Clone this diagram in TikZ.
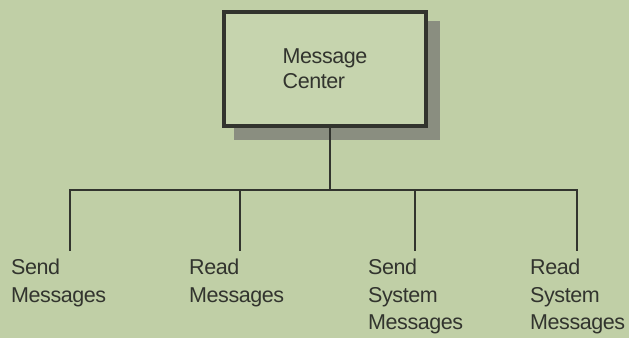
\documentclass[tikz,border=0pt]{standalone}
\usepackage{fontspec}
\setmainfont{Liberation Sans}
\newfontfamily\lblfont{Liberation Sans}[LetterSpace=-2]
\definecolor{bg}{RGB}{192,207,166}
\definecolor{boxfill}{RGB}{198,212,174}
\definecolor{ink}{RGB}{50,52,46}
\definecolor{txt}{RGB}{50,52,46}
\definecolor{shadow}{RGB}{138,142,128}
\tikzset{
  lbl/.style={anchor=north west, align=left, inner sep=0pt, text=txt,
    font=\lblfont\fontsize{21.5}{27.5}\selectfont},
  conn/.style={draw=ink, line width=2.3pt},
}
\begin{document}
\begin{tikzpicture}[x=1pt,y=-1pt]
\fill[bg] (0,0) rectangle (629,338);
\useasboundingbox (0,0) rectangle (629,338);
% shadow
\fill[shadow] (234,21) rectangle (440,140);
% main box
\node[draw=ink, line width=4.5pt, fill=boxfill, minimum width=202pt, minimum height=114pt,
  inner sep=0pt, align=left, text=txt, font=\lblfont\fontsize{21.5}{25}\selectfont]
  (mc) at (325,69) {Message\\Center};
\coordinate (top) at (330,128);
\coordinate (j) at (330,190);
\coordinate (d1) at (70,251);
\coordinate (d2) at (240,251);
\coordinate (d3) at (415,251);
\coordinate (d4) at (577,251);
\node[lbl] (l1) at (11,259) {Send\\Messages};
\node[lbl] (l2) at (189,259) {Read\\Messages};
\node[lbl] (l3) at (368,259) {Send\\System\\Messages};
\node[lbl] (l4) at (530,259) {Read\\System\\Messages};
\draw[conn] (mc.south -| top) -- (j);
\draw[conn] (j) -| (d1);
\draw[conn] (j) -| (d2);
\draw[conn] (j) -| (d3);
\draw[conn] (j) -| (d4);
\end{tikzpicture}
\end{document}
